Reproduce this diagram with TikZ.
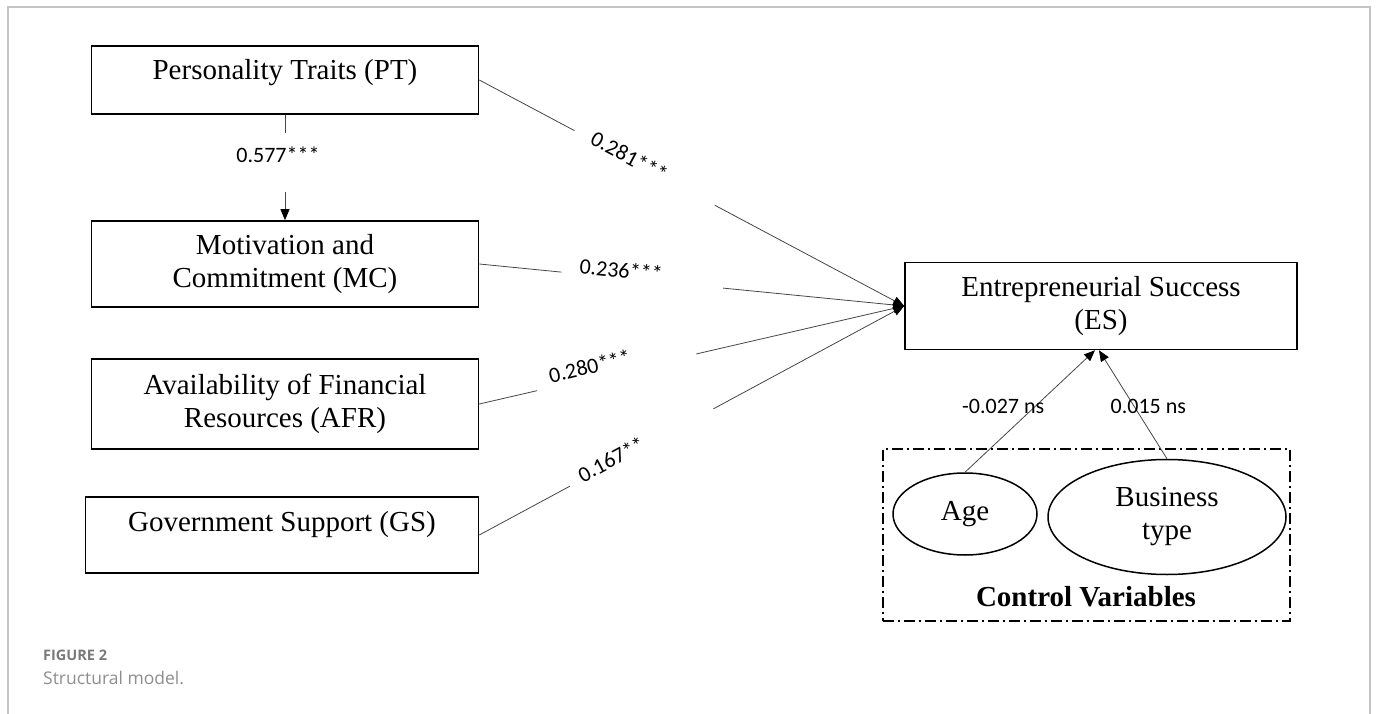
\documentclass[tikz,border=0pt]{standalone}
\usepackage{fontspec}
\setmainfont{Liberation Serif}
\newfontfamily\coeffont{Carlito}
\newfontfamily\capfont{Open Sans}
\usepackage{tikz}
\usetikzlibrary{positioning, arrows.meta, shapes.geometric}
\definecolor{framegray}{HTML}{C4C4C4}
\definecolor{capgray}{HTML}{7A7A7A}
\definecolor{linkgray}{HTML}{464646}

\begin{document}
\begin{tikzpicture}[x=1pt, y=-1pt, on grid,
  >={Triangle[length=11pt, width=9pt, color=black]},
  box/.style={draw, line width=1.6pt, minimum width=387pt, inner sep=0pt, align=center, font=\fontsize{29}{33}\selectfont},
  var/.style={draw, ellipse, line width=1.5pt, inner sep=0pt, align=center, font=\fontsize{29}{33}\selectfont},
  link/.style={draw=linkgray, line width=0.8pt},
  coef/.style={inner sep=0pt, font=\coeffont\fontsize{22}{24}\selectfont}]
  \useasboundingbox (0,0) rectangle (1377,714);
  \draw[framegray, line width=2pt] (8,714) -- (8,7) -- (1370,7) -- (1370,714);

  \node[box, text height=34pt, text depth=34pt] (pt) at (285,80) {Personality Traits (PT)};
  \node[box, minimum height=86pt] (mc) [below=184pt of pt] {Motivation and\\Commitment (MC)};
  \node[box, minimum height=90pt] (afr) [below=140pt of mc] {Availability of Financial\\Resources (AFR)};
  \node[box, minimum width=393pt, text height=34pt, text depth=42pt] (gs) [below=131pt of afr, xshift=-3pt] {Government Support (GS)};
  \node[box, minimum width=392pt, minimum height=87pt] (es) at (1101,306) {Entrepreneurial Success\\(ES)};

  \node[draw, line width=1.5pt, dash pattern=on 11pt off 4pt on 2pt off 4pt, minimum width=407pt, minimum height=172pt] (ctrl) at (1086.5,535) {};
  \node[var, minimum width=144pt, minimum height=82pt] (age) at (965,514) {Age};
  \node[var, minimum width=238pt, minimum height=115pt] (bt) at (1167,517) {Business\\type};
  \node[font=\fontsize{29}{33}\selectfont\bfseries] (cvtxt) at (1086,597) {Control Variables};

  \path (pt.south) -- (mc.north) coordinate[pos=.17] (pt1) coordinate[pos=.73] (pt2)
    node[coef, pos=.38, xshift=-7pt] (c577) {0.577***};
  \path (pt.east) -- (es.west) coordinate[pos=.224] (pt3) coordinate[pos=.554] (pt4)
    node[coef, pos=.35, sloped, above=-5pt] (c281) {0.281***};
  \path (mc.east) -- (es.west) coordinate[pos=.193] (mc1) coordinate[pos=.574] (mc2)
    node[coef, pos=.332, sloped, above=0pt] (c236) {0.236***};
  \path (afr.east) -- (es.west) coordinate[pos=.136] (afr1) coordinate[pos=.511] (afr2)
    node[coef, pos=.266, sloped, above=4pt] (c280) {0.280***};
  \path (gs.east) -- (es.west) coordinate[pos=.2135] (gs1) coordinate[pos=.551] (gs2)
    node[coef, pos=.315, sloped, above=-4pt] (c167) {0.167**};

  \path
    (pt.south) edge[link] (pt1)
    (pt2) edge[link, ->] (mc.north)
    (pt.east) edge[link] (pt3)
    (pt4) edge[link, ->] (es.west)
    (mc.east) edge[link] (mc1)
    (mc2) edge[link, ->] (es.west)
    (afr.east) edge[link] (afr1)
    (afr2) edge[link, ->] (es.west)
    (gs.east) edge[link] (gs1)
    (gs2) edge[link, ->] (es.west)
    (age.north) edge[link, ->] node[coef, pos=.54, xshift=-32pt] {-0.027 ns} ([xshift=-6pt]es.south)
    (bt.north) edge[link, ->] node[coef, pos=.48, xshift=14pt] {0.015 ns} ([xshift=-2pt]es.south);

  \node[anchor=base west, text=capgray, font=\capfont\bfseries\fontsize{14.5}{16}\selectfont, inner sep=0pt] (fig) at (43,660) {FIGURE 2};
  \node[anchor=base west, text=capgray!85, font=\capfont\fontsize{17.5}{19}\selectfont, inner sep=0pt] (cap) [below=24pt of fig.base west, anchor=base west] {Structural model.};
\end{tikzpicture}
\end{document}
